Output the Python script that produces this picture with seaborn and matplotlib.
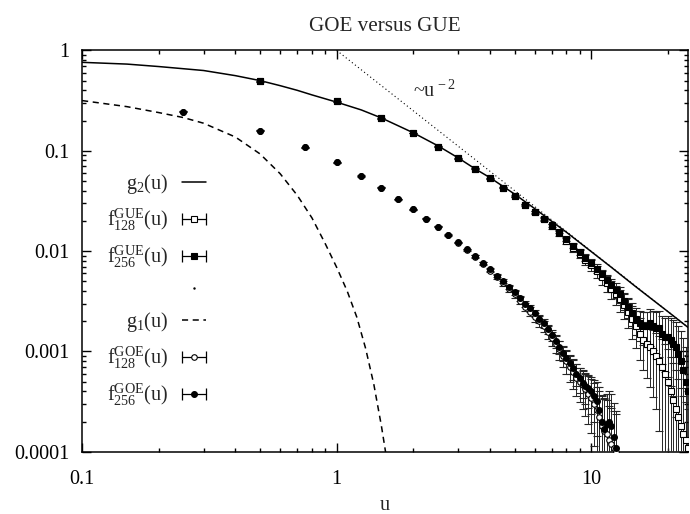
import numpy as np
import pandas as pd
import seaborn as sns
import matplotlib
matplotlib.use('Agg')
import matplotlib.pyplot as plt
from matplotlib.lines import Line2D
from matplotlib.legend_handler import HandlerLine2D
from matplotlib.ticker import LogLocator, FuncFormatter, NullFormatter

# analytic curves
g2_u = [0.1, 0.15, 0.2, 0.3, 0.4, 0.5, 0.6, 0.7, 0.8, 1.0, 1.25, 1.5, 2.0, 2.5,
        3.0, 3.5, 4.0, 5.0, 6.0, 7.0, 8.0, 10.0, 12.0, 15.0, 20.0, 24.0]
g2_vals = [0.76, 0.73, 0.69, 0.63, 0.56, 0.50, 0.445, 0.40, 0.36, 0.305, 0.255, 0.212,
           0.151, 0.112, 0.085, 0.066, 0.054, 0.037, 0.0265, 0.0198, 0.0154, 0.0099,
           0.0069, 0.0044, 0.0025, 0.00174]

g1_u = [0.1, 0.15, 0.2, 0.25, 0.3, 0.4, 0.5, 0.6, 0.7, 0.8, 0.9, 1.0, 1.1, 1.2, 1.3, 1.4, 1.5, 1.55, 1.6]
g1_vals = [0.316, 0.275, 0.240, 0.214, 0.188, 0.137, 0.093, 0.059, 0.036, 0.0214, 0.012, 0.0069,
           0.004, 0.0022, 0.00107, 0.00047, 0.00018, 0.000107, 0.000063]

# ~u^-2 guide line
guide_u = [1.0, 24.0]
guide_vals = [1.0, 0.00174]

# GUE data (step 0.5)
gue_u = [0.5, 1.0, 1.5, 2.0, 2.5, 3.0, 3.5, 4.0, 4.5, 5.0, 5.5, 6.0,
         6.5, 7.0, 7.5, 8.0, 8.5, 9.0, 9.5, 10.0, 10.5, 11.0, 11.5, 12.0,
         12.5, 13.0, 13.5, 14.0, 14.5, 15.0, 15.5, 16.0, 16.5, 17.0, 17.5, 18.0,
         18.5, 19.0, 19.5, 20.0, 20.5, 21.0, 21.5, 22.0, 22.5, 23.0, 23.5, 24.0]
gue256 = [0.49, 0.31, 0.21, 0.15, 0.11, 0.084, 0.066, 0.053, 0.043, 0.0355, 0.029, 0.0245,
          0.021, 0.018, 0.0156, 0.0132, 0.0113, 0.0099, 0.0086, 0.0076, 0.0067, 0.0059, 0.0052, 0.0046,
          0.0041, 0.0037, 0.0032, 0.0028, 0.0024, 0.0021, 0.0019, 0.0018, 0.0018, 0.0019, 0.0018, 0.0017,
          0.0017, 0.0015, 0.0014, 0.0014, 0.0013, 0.0012, 0.0011, 0.00095, 0.0008, 0.00065, 0.0005, 0.0004]
gue256_rel = [0.005, 0.005, 0.005, 0.005, 0.005, 0.005, 0.008, 0.01, 0.012, 0.015, 0.018, 0.02,
              0.03, 0.035, 0.04, 0.05, 0.06, 0.07, 0.08, 0.09, 0.1, 0.11, 0.12, 0.14,
              0.16, 0.18, 0.2, 0.23, 0.26, 0.3, 0.33, 0.36, 0.38, 0.4, 0.42, 0.45,
              0.48, 0.5, 0.55, 0.6, 0.65, 0.7, 0.8, 0.9, 1.0, 1.1, 1.2, 1.3]
gue128 = [0.49, 0.31, 0.21, 0.15, 0.11, 0.084, 0.066, 0.053, 0.043, 0.035, 0.0288, 0.0243,
          0.0207, 0.0176, 0.015, 0.0127, 0.0108, 0.0094, 0.0082, 0.0072, 0.0063, 0.0055, 0.0048, 0.0042,
          0.0037, 0.0033, 0.0029, 0.0025, 0.0021, 0.0018, 0.0015, 0.0013, 0.0012, 0.0011, 0.001, 0.0009,
          0.0008, 0.0007, 0.0006, 0.0005, 0.0004, 0.00033, 0.00027, 0.00022, 0.00018, 0.00015, 0.00013, 0.00011]
gue128_rel = [0.006, 0.006, 0.006, 0.006, 0.006, 0.006, 0.01, 0.012, 0.015, 0.02, 0.024, 0.028,
              0.04, 0.05, 0.06, 0.07, 0.085, 0.1, 0.11, 0.12, 0.14, 0.16, 0.18, 0.2,
              0.22, 0.25, 0.28, 0.32, 0.36, 0.4, 0.45, 0.5, 0.55, 0.6, 0.65, 0.7,
              0.8, 0.9, 1.0, 1.1, 1.2, 1.3, 1.4, 1.4, 1.4, 1.4, 1.4, 1.4]

# GOE data (step 0.25)
goe_u = [0.25, 0.5, 0.75, 1.0, 1.25, 1.5, 1.75, 2.0, 2.25, 2.5, 2.75, 3.0,
         3.25, 3.5, 3.75, 4.0, 4.25, 4.5, 4.75, 5.0, 5.25, 5.5, 5.75, 6.0,
         6.25, 6.5, 6.75, 7.0, 7.25, 7.5, 7.75, 8.0, 8.25, 8.5, 8.75, 9.0,
         9.25, 9.5, 9.75, 10.0, 10.25, 10.5, 10.75, 11.0, 11.25, 11.5, 11.75, 12.0,
         12.25, 12.5]
goe256 = [0.245, 0.158, 0.108, 0.077, 0.056, 0.043, 0.033, 0.026, 0.021, 0.0175, 0.0145, 0.0122,
          0.0104, 0.0089, 0.0076, 0.0066, 0.0057, 0.005, 0.0044, 0.0039, 0.0034, 0.003, 0.0027, 0.0024,
          0.0021, 0.0019, 0.00166, 0.00145, 0.00127, 0.0011, 0.00097, 0.00086, 0.00076, 0.00068, 0.0006, 0.00054,
          0.00049, 0.00045, 0.00043, 0.0004, 0.00036, 0.00032, 0.00026, 0.0002, 0.00017, 0.00019, 0.0002, 0.00018,
          0.00014, 0.00011]
goe256_rel = [0.01, 0.01, 0.01, 0.01, 0.01, 0.01, 0.01, 0.01, 0.01, 0.01, 0.01, 0.01,
              0.02, 0.025, 0.03, 0.035, 0.04, 0.045, 0.05, 0.055, 0.06, 0.07, 0.075, 0.08,
              0.09, 0.1, 0.11, 0.12, 0.14, 0.15, 0.17, 0.19, 0.21, 0.23, 0.25, 0.28,
              0.3, 0.33, 0.36, 0.4, 0.45, 0.55, 0.7, 0.85, 1.0, 1.0, 1.0, 1.1,
              1.2, 1.3]
goe128 = [0.245, 0.158, 0.108, 0.077, 0.056, 0.043, 0.033, 0.026, 0.021, 0.0174, 0.0144, 0.0121,
          0.0103, 0.0088, 0.0075, 0.0064, 0.0055, 0.0048, 0.0042, 0.0037, 0.0032, 0.0028, 0.0025, 0.0022,
          0.002, 0.0018, 0.00155, 0.00135, 0.0012, 0.00105, 0.0009, 0.0008, 0.0007, 0.00062, 0.00055, 0.0005,
          0.00046, 0.00042, 0.00038, 0.00034, 0.0003, 0.00026, 0.00022, 0.00018, 0.00016, 0.00015, 0.00013, 0.00012,
          0.00011, 0.0001]
goe128_rel = [0.012, 0.012, 0.012, 0.012, 0.012, 0.012, 0.012, 0.012, 0.012, 0.012, 0.015, 0.015,
              0.025, 0.03, 0.035, 0.04, 0.05, 0.055, 0.06, 0.07, 0.08, 0.09, 0.1, 0.11,
              0.12, 0.13, 0.15, 0.17, 0.19, 0.21, 0.23, 0.26, 0.29, 0.32, 0.35, 0.38,
              0.42, 0.46, 0.5, 0.55, 0.62, 0.7, 0.85, 1.0, 1.1, 1.2, 1.2, 1.3,
              1.3, 1.4]

sns.set_style('ticks')
plt.rcParams['font.family'] = ['Liberation Serif', 'DejaVu Serif']
plt.rcParams['mathtext.fontset'] = 'custom'
plt.rcParams['mathtext.rm'] = 'Liberation Serif'
plt.rcParams['mathtext.it'] = 'Liberation Serif:italic'
plt.rcParams['mathtext.default'] = 'regular'
plt.rcParams['axes.edgecolor'] = 'black'
plt.rcParams['xtick.color'] = 'black'
plt.rcParams['ytick.color'] = 'black'
FS = 14.5

fig, ax = plt.subplots(figsize=(6.9, 5.14), dpi=100)
fig.subplots_adjust(left=0.119, right=0.997, bottom=0.121, top=0.902)
ax.set_xscale('log')
ax.set_yscale('log')

# curves
sns.lineplot(data=pd.DataFrame({'u': g2_u, 'g': g2_vals}), x='u', y='g', ax=ax,
             color='black', lw=1.1, estimator=None, sort=False)
sns.lineplot(data=pd.DataFrame({'u': g1_u, 'g': g1_vals}), x='u', y='g', ax=ax,
             color='black', lw=1.1, linestyle=(0, (4, 3)), estimator=None, sort=False)
sns.lineplot(data=pd.DataFrame({'u': guide_u, 'g': guide_vals}), x='u', y='g', ax=ax,
             color='black', lw=0.8, linestyle=(0, (1, 2.5)), estimator=None, sort=False)


def draw_series(u, vals, rel, marker, ms, filled):
    vals = np.array(vals)
    err = vals * np.array(rel)
    ax.errorbar(u, vals, yerr=err, fmt=marker, ms=ms,
                mfc='black' if filled else 'white', mec='black', mew=0.8,
                ecolor='0.15', elinewidth=0.7, capsize=3.2, capthick=0.7, zorder=3)


draw_series(goe_u, goe128, goe128_rel, 'o', 4.0, False)
draw_series(goe_u, goe256, goe256_rel, 'o', 4.2, True)
draw_series(gue_u, gue128, gue128_rel, 's', 4.8, False)
draw_series(gue_u, gue256, gue256_rel, 's', 4.8, True)

ax.text(1.99, 0.345, r'~u$^{\,-2}$', fontsize=FS, ha='left', va='baseline')

# legend in gnuplot style: text first, |-o-| sample
def bar():
    return Line2D([], [], color='black', lw=0.9, marker='|', ms=8, mew=0.9)


bars = [bar() for _ in range(4)]
m_gue128 = Line2D([], [], ls='none', marker='s', ms=4.6, mfc='white', mec='black', mew=0.8)
m_gue256 = Line2D([], [], ls='none', marker='s', ms=4.6, mfc='black', mec='black', mew=0.8)
m_goe128 = Line2D([], [], ls='none', marker='o', ms=4.0, mfc='white', mec='black', mew=0.8)
m_goe256 = Line2D([], [], ls='none', marker='o', ms=4.2, mfc='black', mec='black', mew=0.8)
h_g2 = Line2D([], [], color='black', lw=1.1)
h_g1 = Line2D([], [], color='black', lw=1.1, linestyle=(0, (4, 3)))
h_blank = Line2D([], [], ls='none', marker='.', ms=1.5, color='black')

handles = [h_g2, (bars[0], m_gue128), (bars[1], m_gue256), h_blank,
           h_g1, (bars[2], m_goe128), (bars[3], m_goe256)]
labels = [r'$g_2(u)$', r'$f_{128}^{GUE}(u)$', r'$f_{256}^{GUE}(u)$', ' ',
          r'$g_1(u)$', r'$f_{128}^{GOE}(u)$', r'$f_{256}^{GOE}(u)$']
hmap = {b: HandlerLine2D(numpoints=2, marker_pad=0) for b in bars}
ax.legend(handles, labels, handler_map=hmap, markerfirst=False, frameon=False,
          loc='upper right', bbox_to_anchor=(0.205, 0.697), handlelength=1.2,
          handletextpad=0.7, labelspacing=0.52, numpoints=1, borderpad=0,
          borderaxespad=0, fontsize=FS)

# axes
ax.set_xlim(0.1, 24)
ax.set_ylim(1e-4, 1)
for axis in (ax.xaxis, ax.yaxis):
    axis.set_major_locator(LogLocator(base=10, numticks=10))
    axis.set_minor_locator(LogLocator(base=10, subs=np.arange(2, 10), numticks=20))
    axis.set_minor_formatter(NullFormatter())
    axis.set_major_formatter(FuncFormatter(lambda v, p: '%g' % v))
ax.tick_params(which='both', direction='in', top=True, right=True, width=1.0, labelsize=FS)
ax.tick_params(which='major', length=6.5)
ax.tick_params(which='minor', length=3)
ax.tick_params(axis='x', which='major', pad=13)
ax.tick_params(axis='y', which='major', pad=9)
for sp in ax.spines.values():
    sp.set_linewidth(1.1)

ax.set_title('GOE versus GUE', fontsize=15.2, pad=14)
ax.set_xlabel('u', fontsize=FS, labelpad=5)
ax.set_ylabel('')

fig.savefig('out.png', dpi=100)
